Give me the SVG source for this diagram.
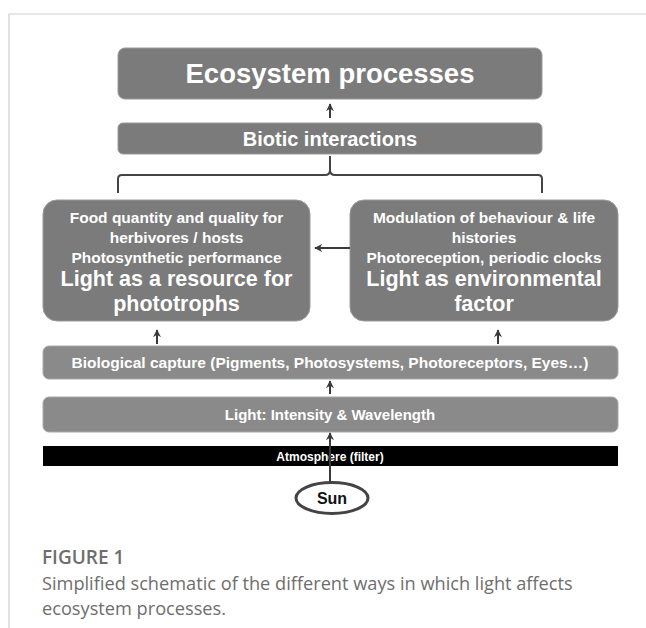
<svg xmlns="http://www.w3.org/2000/svg" width="646" height="628" viewBox="0 0 646 628">
<defs>
<marker id="ah" viewBox="0 0 10 10" refX="9" refY="5" markerWidth="4" markerHeight="4" orient="auto" markerUnits="strokeWidth">
<path d="M0,0 L10,5 L0,10 L3,5 Z" fill="#3a3a3a"/>
</marker>
<style>
.box{fill:#7b7b7b;stroke:#9a9a9a;stroke-width:1}
.lbox{fill:#8a8a8a;stroke:#a8a8a8;stroke-width:1}
.t{font-family:"Liberation Sans",Arial,sans-serif;font-weight:bold;fill:#ffffff;text-anchor:middle}
.arr{stroke:#3a3a3a;stroke-width:2;fill:none;marker-end:url(#ah)}
.br{stroke:#444;stroke-width:2;fill:none}
.cap{font-family:"Open Sans","Noto Sans",sans-serif;fill:#6e6e6e}
</style>
</defs>
<rect width="646" height="628" fill="#ffffff"/>
<path d="M9,628 V14 H646" stroke="#cfcfcf" stroke-width="1.2" fill="none"/>

<g id="ecosystem">
<rect class="box" x="118" y="48" width="424" height="51" rx="7"/>
<text class="t" x="330" y="83" font-size="27.5">Ecosystem processes</text>
</g>
<g id="biotic">
<rect class="box" x="118" y="123" width="424" height="31" rx="5"/>
<text class="t" x="330" y="146" font-size="20">Biotic interactions</text>
</g>
<g id="resource">
<rect class="box" x="43" y="200" width="267" height="121" rx="14"/>
<text class="t" font-size="15.5"><tspan x="176.5" y="222.6">Food quantity and quality for</tspan><tspan x="176.5" y="242.6">herbivores / hosts</tspan><tspan x="176.5" y="262.6">Photosynthetic performance</tspan></text>
<text class="t" font-size="21.5"><tspan x="176.5" y="285.7">Light as a resource for</tspan><tspan x="176.5" y="310.7">phototrophs</tspan></text>
</g>
<g id="environmental">
<rect class="box" x="350" y="200" width="268" height="121" rx="14"/>
<text class="t" font-size="15.5"><tspan x="484" y="222.6">Modulation of behaviour &amp; life</tspan><tspan x="484" y="242.6">histories</tspan><tspan x="484" y="262.6">Photoreception, periodic clocks</tspan></text>
<text class="t" font-size="21.5"><tspan x="484" y="285.7">Light as environmental</tspan><tspan x="484" y="310.7">factor</tspan></text>
</g>
<g id="capture">
<rect class="lbox" x="43" y="346" width="575" height="33" rx="6"/>
<text class="t" x="330" y="368" font-size="15.5">Biological capture (Pigments, Photosystems, Photoreceptors, Eyes…)</text>
</g>
<g id="light">
<rect class="lbox" x="43" y="397" width="575" height="35" rx="6"/>
<text class="t" x="330" y="419.5" font-size="15">Light: Intensity &amp; Wavelength</text>
</g>
<g id="atmosphere">
<rect x="43" y="446" width="575" height="20" fill="#000000"/>
<text class="t" x="330" y="460.5" font-size="12">Atmosphere (filter)</text>
</g>
<g id="sun">
<ellipse cx="332" cy="498" rx="36" ry="15.5" fill="#ffffff" stroke="#444" stroke-width="3"/>
<text x="332" y="503.5" font-family="Liberation Sans,Arial,sans-serif" font-weight="bold" font-size="16" fill="#111" text-anchor="middle">Sun</text>
</g>

<g id="connectors">
<path class="arr" d="M330,118 V104"/>
<path class="br" d="M118,193 V179 Q118,175 122,175 H325 Q330,175 330,170 V156 M330,156 V170 Q330,175 335,175 H538 Q542,175 542,179 V193"/>
<path class="arr" d="M350,248 H315"/>
<path class="arr" d="M157,344 V330"/>
<path class="arr" d="M498,344 V330"/>
<path class="arr" d="M330,394 V381"/>
<path class="arr" d="M330,482 V433"/>
</g>

<g id="caption">
<text class="cap" x="42" y="564" font-size="19" font-weight="600">FIGURE 1</text>
<text class="cap" x="42" y="590" font-size="18.2">Simplified schematic of the different ways in which light affects</text>
<text class="cap" x="42" y="615" font-size="18.2">ecosystem processes.</text>
</g>
</svg>
